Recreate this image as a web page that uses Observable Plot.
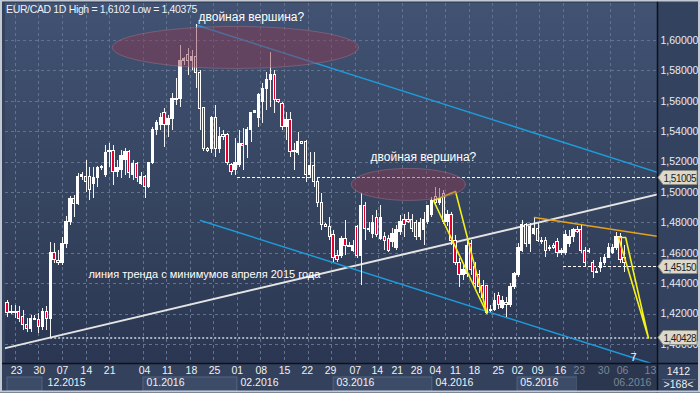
<!DOCTYPE html>
<html><head><meta charset="utf-8">
<script src="https://cdn.jsdelivr.net/npm/d3@7"></script>
<script src="https://cdn.jsdelivr.net/npm/@observablehq/plot@0.6"></script>
<style>
html,body{margin:0;padding:0;background:#2f3c58;}
#chart{width:700px;height:393px;overflow:hidden;}
svg{display:block;}
</style></head><body><div id="chart"></div>
<script>
// ---- OHLC data (EUR/CAD daily) ----
const open = [1.4276,1.4217,1.4204,1.4217,1.4178,1.4125,1.4099,1.4171,1.4164,1.4118,1.4217,1.4171,1.4605,1.4546,1.4539,1.4664,1.4803,1.4954,1.4921,1.5105,1.5099,1.5099,1.5053,1.5092,1.5158,1.5112,1.5263,1.5270,1.5132,1.5145,1.5211,1.5263,1.5112,1.5184,1.5059,1.5099,1.5033,1.5191,1.5414,1.5447,1.5520,1.5441,1.5480,1.5618,1.5618,1.5868,1.5901,1.5868,1.5888,1.5789,1.5553,1.5289,1.5289,1.5493,1.5289,1.5375,1.5375,1.5178,1.5145,1.5178,1.5316,1.5309,1.5408,1.5526,1.5493,1.5592,1.5678,1.5743,1.5770,1.5605,1.5579,1.5428,1.5474,1.5270,1.5257,1.5329,1.5329,1.5112,1.5171,1.5066,1.4934,1.4789,1.4776,1.4717,1.4585,1.4585,1.4691,1.4651,1.4618,1.4770,1.4579,1.4914,1.4763,1.4730,1.4829,1.4697,1.4704,1.4697,1.4671,1.4632,1.4737,1.4816,1.4816,1.4816,1.4796,1.4704,1.4750,1.4803,1.4849,1.4967,1.4928,1.4993,1.4803,1.4849,1.4684,1.4533,1.4454,1.4467,1.4664,1.4507,1.4454,1.4388,1.4382,1.4230,1.4224,1.4322,1.4243,1.4270,1.4257,1.4375,1.4454,1.4618,1.4783,1.4664,1.4730,1.4763,1.4684,1.4684,1.4632,1.4645,1.4671,1.4599,1.4605,1.4664,1.4710,1.4750,1.4750,1.4618,1.4618,1.4533,1.4480,1.4500,1.4533,1.4572,1.4605,1.4632,1.4704,1.4566];
const high = [1.4289,1.4257,1.4257,1.4250,1.4224,1.4171,1.4191,1.4191,1.4204,1.4237,1.4250,1.4671,1.4664,1.4618,1.4704,1.4842,1.4974,1.4980,1.5125,1.5132,1.5211,1.5164,1.5164,1.5171,1.5178,1.5309,1.5322,1.5309,1.5211,1.5276,1.5289,1.5276,1.5211,1.5197,1.5132,1.5112,1.5197,1.5428,1.5474,1.5520,1.5553,1.5507,1.5651,1.5750,1.5967,1.5888,1.5947,1.5934,1.6102,1.5803,1.5559,1.5296,1.5500,1.5572,1.5428,1.5408,1.5388,1.5191,1.5355,1.5408,1.5421,1.5428,1.5526,1.5539,1.5651,1.5717,1.5789,1.5921,1.5803,1.5612,1.5592,1.5526,1.5526,1.5322,1.5395,1.5336,1.5342,1.5263,1.5263,1.5099,1.4993,1.4796,1.4835,1.4750,1.4618,1.4710,1.4816,1.4671,1.4684,1.4783,1.4993,1.4934,1.4803,1.4849,1.4882,1.4914,1.4737,1.4717,1.4763,1.4783,1.4849,1.4855,1.4868,1.4855,1.4816,1.4829,1.4868,1.4914,1.4967,1.5033,1.5026,1.5013,1.4882,1.4868,1.4717,1.4566,1.4520,1.4684,1.4684,1.4539,1.4487,1.4421,1.4388,1.4257,1.4336,1.4342,1.4316,1.4309,1.4401,1.4474,1.4664,1.4816,1.4796,1.4796,1.4829,1.4796,1.4704,1.4704,1.4651,1.4664,1.4697,1.4632,1.4750,1.4750,1.4763,1.4776,1.4783,1.4638,1.4632,1.4553,1.4500,1.4572,1.4592,1.4664,1.4658,1.4737,1.4730,1.4651];
const low = [1.4178,1.4197,1.4171,1.4145,1.4092,1.4079,1.4079,1.4158,1.4072,1.4092,1.4092,1.4038,1.4533,1.4520,1.4520,1.4632,1.4783,1.4835,1.4914,1.5079,1.5000,1.4947,1.4960,1.5033,1.5145,1.5099,1.5164,1.5046,1.5099,1.5092,1.5112,1.5092,1.5079,1.5066,1.5046,1.4960,1.5026,1.5184,1.5375,1.5408,1.5296,1.5362,1.5408,1.5572,1.5559,1.5836,1.5770,1.5803,1.5684,1.5408,1.5270,1.5263,1.5257,1.5230,1.5257,1.5342,1.5178,1.5112,1.5112,1.5164,1.5145,1.5224,1.5329,1.5520,1.5428,1.5454,1.5539,1.5559,1.5520,1.5586,1.5408,1.5342,1.5230,1.5145,1.5243,1.5316,1.5066,1.5092,1.5033,1.4901,1.4750,1.4770,1.4684,1.4539,1.4539,1.4566,1.4585,1.4638,1.4605,1.4566,1.4388,1.4684,1.4737,1.4697,1.4704,1.4684,1.4618,1.4605,1.4638,1.4618,1.4717,1.4704,1.4796,1.4737,1.4684,1.4684,1.4651,1.4789,1.4835,1.4914,1.4914,1.4789,1.4776,1.4651,1.4520,1.4375,1.4421,1.4441,1.4454,1.4368,1.4336,1.4289,1.4197,1.4211,1.4217,1.4230,1.4230,1.4178,1.4243,1.4362,1.4441,1.4605,1.4638,1.4605,1.4717,1.4671,1.4658,1.4572,1.4612,1.4625,1.4572,1.4585,1.4585,1.4638,1.4671,1.4730,1.4599,1.4507,1.4599,1.4434,1.4467,1.4474,1.4520,1.4566,1.4592,1.4618,1.4533,1.4474];
const close = [1.4204,1.4211,1.4217,1.4171,1.4125,1.4099,1.4171,1.4164,1.4112,1.4217,1.4171,1.4605,1.4553,1.4533,1.4664,1.4809,1.4954,1.4921,1.5099,1.5118,1.5066,1.5013,1.5092,1.5158,1.5164,1.5257,1.5270,1.5132,1.5164,1.5243,1.5263,1.5125,1.5184,1.5092,1.5099,1.5033,1.5191,1.5414,1.5454,1.5487,1.5441,1.5480,1.5618,1.5605,1.5868,1.5875,1.5868,1.5888,1.5783,1.5546,1.5283,1.5276,1.5493,1.5289,1.5362,1.5368,1.5191,1.5132,1.5191,1.5322,1.5303,1.5414,1.5520,1.5533,1.5638,1.5678,1.5743,1.5770,1.5605,1.5592,1.5428,1.5474,1.5263,1.5263,1.5329,1.5322,1.5112,1.5171,1.5066,1.4934,1.4789,1.4776,1.4710,1.4572,1.4559,1.4691,1.4651,1.4645,1.4651,1.4579,1.4914,1.4763,1.4750,1.4796,1.4717,1.4835,1.4684,1.4618,1.4730,1.4750,1.4803,1.4783,1.4809,1.4763,1.4704,1.4796,1.4816,1.4914,1.4947,1.4928,1.4960,1.4803,1.4849,1.4684,1.4533,1.4454,1.4487,1.4651,1.4487,1.4401,1.4375,1.4303,1.4204,1.4224,1.4289,1.4257,1.4289,1.4257,1.4375,1.4461,1.4632,1.4783,1.4664,1.4770,1.4763,1.4684,1.4671,1.4618,1.4625,1.4638,1.4599,1.4618,1.4717,1.4710,1.4750,1.4743,1.4618,1.4533,1.4612,1.4474,1.4474,1.4539,1.4572,1.4632,1.4638,1.4704,1.4553,1.4533];

// ---- axis ticks / labels ----
const priceTicks = [1.40,1.42,1.44,1.46,1.48,1.50,1.52,1.54,1.56,1.58,1.60];
const gridIdx = [2,8,14,20,26,34.5,40.5,46.5,52.5,58.5,64.5,70.5,76.5,82.5,88.5,94.5,100.5,106.5,111.5,117.5,123.5,129.5,135.5,141.5,147.5,153.5,159.5];
const dayIdx = [2.3,8.1,14,20.1,26,34.9,40.7,46.8,52.7,58.5,64.6,70.5,76.3,82.2,88.5,94.1,99.2,104.1,108.9,114,118.8,124.9,129.8,134.9,140.7,145.5,151.7,156.5,163.6];
const dayLabels = ["23","30","07","14","21","04","11","18","25","01","08","15","22","29","07","14","21","28","04","11","18","25","02","09","16","23","30","06","13"];
const firstFutureDay = 25;
const monthIdx = [10.2,35.4,59.3,83.7,108.9,130.5,154.2];
const monthLabels = ["12.2015","01.2016","02.2016","03.2016","04.2016","05.2016","06.2016"];
const monthBoxStart = [-1,34.6,83,129.8];
const monthBoxEnd = [8.9,58.5,108.1,145];
const futureStart = 145;

// ---- annotations ----
const trendLine = [{i:-0.5,p:1.3976},{i:165.4,p:1.4987}];
const upperChannel = [{i:48,p:1.6102},{i:165.4,p:1.5132}];
const lowerChannel = [{i:49.1,p:1.4816},{i:165.4,p:1.3862}];
const wedge1 = [{i:108.4,p:1.4947},{i:114,p:1.5007},{i:122,p:1.4204},{i:108.4,p:1.4947}];
const wedge2 = [{i:155.5,p:1.4704},{i:157.3,p:1.4704},{i:163.1,p:1.40428},{i:155.5,p:1.4704}];
const resistance = [{i:134.1,p:1.4836},{i:165.4,p:1.4711}];
const ellipseCenters = [{ci:58,cp:1.5954,ri:31.3,rp:0.0138},{ci:102,cp:1.5053,ri:14.5,rp:0.0105}];
const levelValues = [1.51005,1.4515,1.40428];
const levelStart = [58.5,141.5,11];
const levelLabels = ["1,51005","1,45150","1,40428"];
const notes = [
  {i:48.6,p:1.6151,t:"двойная вершина?",s:12},
  {i:92.4,p:1.5230,t:"двойная вершина?",s:12},
  {i:20.6,p:1.4461,t:"линия тренда с минимумов апреля 2015 года",s:11}
];
const titleText = "EUR/CAD 1D High = 1,6102 Low = 1,40375";

// ---- build ----
const bars = open.map((o,k)=>({i:k,open:o,high:high[k],low:low[k],close:close[k]}));
const bull = bars.filter(d=>d.close>=d.open);
const bear = bars.filter(d=>d.close<d.open);
const minBody = 0.0007;
const bodyY2 = d => Math.abs(d.close-d.open)<minBody ? d.open + (d.close>=d.open?minBody:-minBody) : d.close;
const ellipse = e => d3.range(0,73).map(k=>{const t=k/72*2*Math.PI;return {i:e.ci+e.ri*Math.cos(t),p:e.cp+e.rp*Math.sin(t)};});
const levels = levelValues.map((v,k)=>({p:v,from:levelStart[k],label:levelLabels[k]}));
const days = dayLabels.map((t,k)=>({i:dayIdx[k],t,future:k>=firstFutureDay}));
const months = monthLabels.map((t,k)=>({i:monthIdx[k],t,future:monthIdx[k]>=futureStart}));
const fmt = v => v.toFixed(5).replace(".",",");
const FONT = "'Liberation Sans', Arial, sans-serif";
const XMAX = 165.4;
const HW = 0.3;

const plot = Plot.plot({
  width:700, height:393,
  marginLeft:5, marginRight:43, marginTop:3, marginBottom:30,
  x:{type:"linear", domain:[-0.5,XMAX], axis:null},
  y:{type:"linear", domain:[1.3875,1.6243], axis:null},
  style:{background:"transparent", fontFamily:FONT, overflow:"visible"},
  marks:[
    Plot.ruleY(priceTicks,{stroke:"#62728f",strokeDasharray:"3,3",strokeWidth:1,shapeRendering:"crispEdges"}),
    Plot.ruleX(gridIdx,{stroke:"#62728f",strokeDasharray:"3,3",strokeWidth:1,shapeRendering:"crispEdges"}),
    // level lines
    Plot.ruleY(levels.slice(0,2),{y:"p",x1:"from",x2:XMAX,stroke:"#ffffff",strokeDasharray:"3,2",strokeWidth:1,shapeRendering:"crispEdges"}),
    Plot.ruleY(levels.slice(2),{y:"p",x1:"from",x2:XMAX,stroke:"#a9b0bc",strokeDasharray:"2,2",strokeWidth:2}),
    // channel + trend lines
    Plot.line(trendLine,{x:"i",y:"p",stroke:"#e4e4e4",strokeWidth:2,clip:true}),
    Plot.line(upperChannel,{x:"i",y:"p",stroke:"#1e9ad8",strokeWidth:1.5,clip:true}),
    Plot.line(lowerChannel,{x:"i",y:"p",stroke:"#1e9ad8",strokeWidth:1.5,clip:true}),
    Plot.line(resistance,{x:"i",y:"p",stroke:"#e6a31c",strokeWidth:1.5,clip:true}),
    // candles
    Plot.ruleX(bars,{x:"i",y1:"low",y2:"high",stroke:"#f4f4f4",strokeWidth:1,clip:true,shapeRendering:"crispEdges"}),
    Plot.rect(bull,{x1:d=>d.i-HW,x2:d=>d.i+HW,y1:"open",y2:bodyY2,fill:"#ffffff",stroke:"#ffffff",strokeWidth:1,clip:true,shapeRendering:"crispEdges"}),
    Plot.rect(bear,{x1:d=>d.i-HW,x2:d=>d.i+HW,y1:"open",y2:bodyY2,fill:"#e3002d",stroke:"#ffffff",strokeWidth:1,clip:true,shapeRendering:"crispEdges"}),
    // wedges
    Plot.line(wedge1,{x:"i",y:"p",stroke:"#f4f01a",strokeWidth:1.6,clip:true}),
    Plot.line(wedge2,{x:"i",y:"p",stroke:"#f4f01a",strokeWidth:1.6,clip:true}),
    // ellipses
    ...ellipseCenters.map(e=>Plot.line(ellipse(e),{x:"i",y:"p",fill:"#8c3a52",fillOpacity:0.47,stroke:"#a07488",strokeOpacity:0.5,strokeWidth:1,clip:true})),
    // notes
    Plot.text(notes,{x:"i",y:"p",text:"t",textAnchor:"start",fill:"#ffffff",fontSize:d=>d.s}),
    Plot.text(["7"],{x:159.3,y:1.3914,text:d=>d,fill:"#ffffff",fontSize:11}),
    // price axis labels
    Plot.text(priceTicks,{y:d=>d,text:fmt,frameAnchor:"right",textAnchor:"start",dx:3,fill:"#e8ecf2",fontSize:10.5,letterSpacing:-0.4}),
    // date labels
    Plot.text(days.filter(d=>!d.future),{x:"i",text:"t",frameAnchor:"bottom",dy:10,fill:"#eef1f6",fontSize:10.5,letterSpacing:-0.4}),
    Plot.text(days.filter(d=>d.future),{x:"i",text:"t",frameAnchor:"bottom",dy:10,fill:"#7c8698",fontSize:10.5,letterSpacing:-0.4}),
    Plot.text(months.filter(d=>!d.future),{x:"i",text:"t",frameAnchor:"bottom",dy:22,textAnchor:"start",fill:"#eef1f6",fontSize:10.5,letterSpacing:-0.3}),
    Plot.text(months.filter(d=>d.future),{x:"i",text:"t",frameAnchor:"bottom",dy:22,textAnchor:"start",fill:"#7c8698",fontSize:10.5,letterSpacing:-0.3})
  ]
});

// ---- panel decoration using the plot's scales ----
const svg = d3.select(plot);
const xs = plot.scale("x"), ys = plot.scale("y");
const L=5, R=657, T=3, B=363, W=700, H=393;
const defs = svg.insert("defs",":first-child");
const g = defs.append("linearGradient").attr("id","bgGrad").attr("x1",0).attr("y1",0).attr("x2",0).attr("y2",1);
g.append("stop").attr("offset","0%").attr("stop-color","#415273");
g.append("stop").attr("offset","55%").attr("stop-color","#35445f");
g.append("stop").attr("offset","100%").attr("stop-color","#2b3752");
const back = svg.insert("g","defs + *");
back.append("rect").attr("x",0).attr("y",0).attr("width",W).attr("height",H).attr("fill","#34425d");
back.append("rect").attr("x",L).attr("y",T).attr("width",R-L).attr("height",B-T).attr("fill","url(#bgGrad)");
// bottom axis panel
back.append("rect").attr("x",0).attr("y",B).attr("width",R).attr("height",H-B).attr("fill","#33415c");
monthBoxStart.forEach((s,k)=>{
  const x1=Math.max(L+2,xs.apply(s)), x2=xs.apply(monthBoxEnd[k]);
  back.append("rect").attr("x",x1).attr("y",B+14).attr("width",x2-x1).attr("height",14)
    .attr("fill","#45557185").attr("stroke","#56667f").attr("stroke-width",1);
});
back.append("rect").attr("x",xs.apply(futureStart)).attr("y",B).attr("width",R-xs.apply(futureStart)).attr("height",H-B).attr("fill","#2b374f");
// right panel
back.append("rect").attr("x",R).attr("y",0).attr("width",W-R).attr("height",H).attr("fill","#33425e");

const front = svg.append("g").attr("text-anchor","start").attr("font-family",FONT);
front.append("line").attr("x1",R+0.5).attr("x2",R+0.5).attr("y1",0).attr("y2",H).attr("stroke","#0c111b").attr("stroke-width",1.5);
front.append("line").attr("x1",0).attr("x2",W).attr("y1",B+0.5).attr("y2",B+0.5).attr("stroke","#0c111b").attr("stroke-width",1.5);
// level tags
levels.forEach(l=>{
  const yy = Math.round(ys.apply(l.p))+0.5;
  front.append("path").attr("d",`M${R+1},${yy} L${R+6},${yy-7} L${W-3},${yy-7} L${W-3},${yy+7} L${R+6},${yy+7} Z`)
    .attr("fill","#dcd9ca").attr("stroke","#8e8e86").attr("stroke-width",1);
  front.append("text").attr("x",R+6.5).attr("y",yy+4).attr("font-size",10).attr("letter-spacing",-0.5)
    .attr("text-anchor","start").attr("fill","#1e1e1e").text(l.label);
});
// bottom-right info
front.append("text").attr("x",(R+W)/2).attr("y",B+12).attr("text-anchor","middle").attr("font-size",10.5)
  .attr("fill","#eef1f6").text("1412");
front.append("line").attr("x1",R+5).attr("x2",W-4).attr("y1",B+16.5).attr("y2",B+16.5).attr("stroke","#56657f");
front.append("text").attr("x",(R+W)/2).attr("y",B+25).attr("text-anchor","middle").attr("font-size",10.5)
  .attr("fill","#eef1f6").text(">168<");
// title
front.append("text").attr("x",6).attr("y",13).attr("font-size",10.5).attr("letter-spacing",-0.35)
  .attr("text-anchor","start").attr("fill","#eef1f6").text(titleText);
// outer frame
front.append("rect").attr("x",1).attr("y",0.5).attr("width",W-2).attr("height",H-2).attr("fill","none")
  .attr("stroke","#c3c9d2").attr("stroke-width",2);

document.getElementById("chart").appendChild(plot);
</script>
</body></html>
